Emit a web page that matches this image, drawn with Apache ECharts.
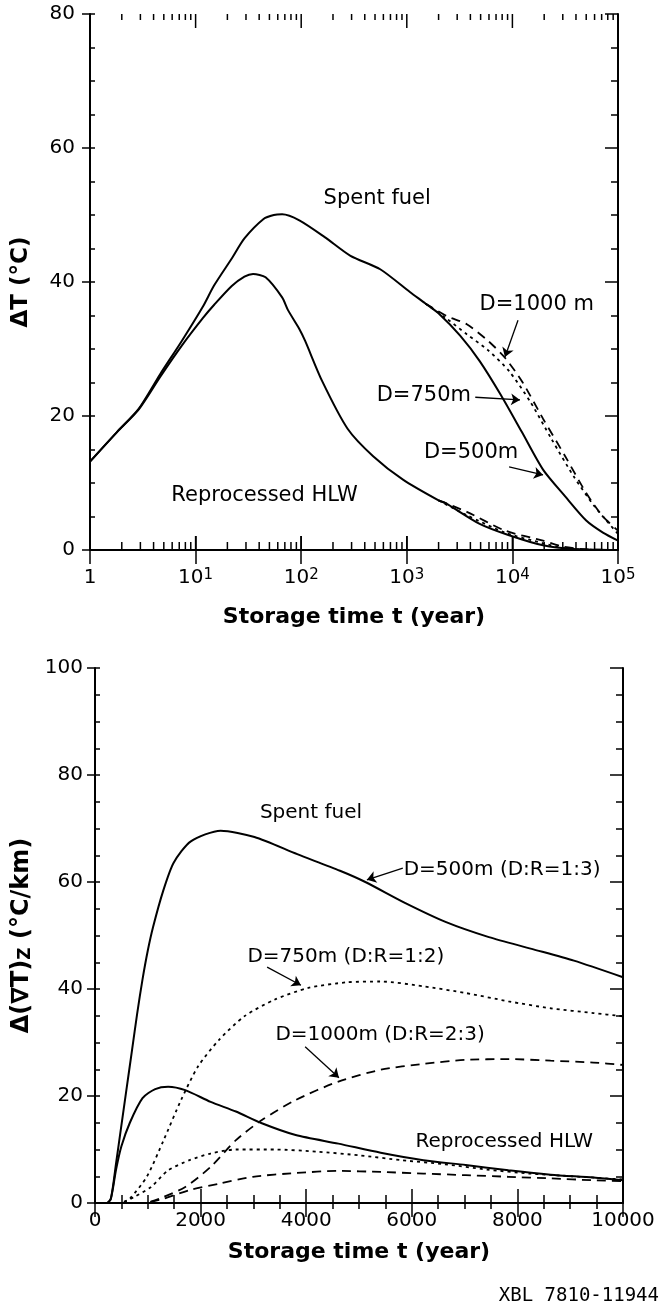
<!DOCTYPE html>
<html>
<head>
<meta charset="utf-8">
<script src="https://cdn.jsdelivr.net/npm/echarts@6/dist/echarts.min.js"></script>
<style>
  html, body { margin: 0; padding: 0; background: #fff; }
  #chart { width: 666px; height: 1312px; }
</style>
</head>
<body>
<div id="chart"></div>
<script>
// ---------- Upper panel: temperature rise ΔT (°C) vs storage time (years, log) ----------
const spentT = [1, 1.8, 2.9, 4.6, 7.4, 11.7, 15, 22, 29, 44, 55, 66, 96, 167, 293, 560, 1070, 1500, 2040, 3200, 4900, 7800, 12300, 19500, 31600, 50000, 72000, 100000];
const spentV = [13.2, 17.6, 21.1, 26.2, 31.2, 36.3, 39.5, 43.5, 46.5, 49.4, 50.0, 50.1, 49.2, 46.7, 43.9, 41.9, 38.5, 36.8, 35.2, 32.0, 28.2, 23.1, 17.6, 12.0, 8.0, 4.4, 2.6, 1.4];

const spent1000T = [1500, 2400, 3700, 5900, 8500, 12300, 19500, 31600, 50000, 72000, 100000];
const spent1000V = [36.8, 34.9, 33.7, 31.2, 28.7, 25.2, 19.6, 14.0, 8.5, 5.0, 2.9];

const spent750T = [1500, 2400, 3700, 5900, 9300, 14800, 23400, 38000, 60000, 100000];
const spent750V = [36.8, 34.5, 32.2, 29.8, 26.7, 22.1, 16.6, 11.0, 6.5, 2.4];

const hlwT = [1, 1.8, 2.9, 4.6, 7.4, 11.7, 15, 22, 29, 35, 46, 66, 75, 96, 109, 158, 275, 480, 920, 2000, 2330, 4900, 9300, 19500, 38000, 100000];
const hlwV = [13.2, 17.6, 21.0, 25.8, 30.5, 34.6, 36.6, 39.4, 40.8, 41.2, 40.7, 37.7, 35.8, 33.0, 31.2, 25.2, 18.1, 14.0, 10.5, 7.4, 7.0, 3.9, 2.2, 0.7, 0.15, 0];

const hlw1000T = [2000, 3700, 8500, 19500, 30000, 50000, 100000];
const hlw1000V = [7.4, 5.7, 2.9, 1.4, 0.5, 0.1, 0];

const hlw750T = [2000, 3700, 8500, 19500, 30000, 50000, 100000];
const hlw750V = [7.4, 5.2, 2.6, 1.0, 0.3, 0.05, 0];

const topDecades = [1, 10, 100, 1000, 10000, 100000];
const topNotes = [
  [525, 52.5, 'Spent fuel'],
  [17000, 36.6, 'D=1000 m'],
  [1450, 23.1, 'D=750m'],
  [4060, 14.5, 'D=500m'],
  [45, 8.2, 'Reprocessed HLW']
];
const topArrows = [
  [[11300, 34.3], [8500, 28.8]],
  [[4450, 22.8], [11800, 22.4]],
  [[9300, 12.4], [19500, 11.2]]
];

// ---------- Lower panel: vertical gradient change Δ(∇T)z (°C/km) vs storage time ----------
const g500T = [0, 220, 300, 400, 500, 600, 700, 800, 900, 1000, 1100, 1290, 1490, 1815, 2380, 3020, 3830, 4640, 5120, 5850, 6650, 7460, 8270, 9070, 10000];
const g500V = [0, 0, 0.8, 7.5, 14.5, 21.5, 28.5, 35.5, 41.8, 47.2, 51.6, 58.3, 63.6, 67.6, 69.6, 68.4, 65.2, 62.1, 60.0, 56.2, 52.5, 49.7, 47.5, 45.3, 42.2];

const g750T = [550, 660, 980, 1300, 1630, 1950, 2350, 2830, 3400, 4040, 4770, 5410, 6220, 7020, 7830, 8630, 9440, 10000];
const g750V = [0.2, 0.8, 4.9, 11.75, 19.25, 25.5, 30.5, 34.9, 38.0, 40.2, 41.25, 41.4, 40.5, 39.25, 37.7, 36.4, 35.5, 34.9];

const g1000T = [1050, 1220, 1710, 2190, 2670, 3160, 3800, 4610, 5410, 6220, 7020, 7830, 8630, 9440, 10000];
const g1000V = [0.2, 0.8, 3.0, 6.75, 11.75, 15.5, 19.25, 22.7, 24.9, 26.0, 26.75, 26.9, 26.6, 26.25, 25.8];

const gHlwT = [0, 220, 300, 400, 500, 660, 900, 1140, 1385, 1710, 2190, 2670, 3160, 3800, 4610, 5410, 6220, 7020, 7830, 8630, 9440, 10000];
const gHlwV = [0, 0, 0.8, 6.3, 10.6, 15.0, 19.6, 21.3, 21.75, 21.1, 18.9, 17.1, 14.9, 12.7, 11.1, 9.4, 8.0, 7.1, 6.1, 5.3, 4.75, 4.25];

const gHlw750T = [550, 740, 1060, 1385, 1790, 2190, 2670, 3400, 4200, 5010, 5810, 6620, 7420, 8230, 9030, 10000];
const gHlw750V = [0.2, 1.1, 3.0, 6.1, 8.0, 9.25, 10.0, 10.0, 9.6, 8.9, 8.0, 7.25, 6.25, 5.5, 5.0, 4.4];

const gHlw1000T = [1050, 1300, 1790, 2350, 2990, 3800, 4610, 5410, 6220, 7020, 7830, 8630, 9440, 10000];
const gHlw1000V = [0.2, 0.8, 2.4, 3.6, 4.9, 5.6, 6.0, 5.8, 5.5, 5.2, 4.9, 4.6, 4.25, 4.1];

const bottomNotes = [
  [4090, 72.9, 'Spent fuel'],
  [7710, 62.2, 'D=500m (D:R=1:3)'],
  [4750, 46.0, 'D=750m (D:R=1:2)'],
  [5400, 31.4, 'D=1000m (D:R=2:3)'],
  [7750, 11.4, 'Reprocessed HLW']
];
const bottomArrows = [
  [[5830, 62.6], [5150, 60.4]],
  [[3260, 44.1], [3900, 40.7]],
  [[3980, 29.2], [4620, 23.4]]
];

// ---------- shared styling ----------
const FONT = 'DejaVu Sans';
const INK = '#000';
const pairs = (xs, ys) => xs.map((x, i) => [x, ys[i]]);

// log-axis minor tick values 2..9 within each decade
const minorLog = [];
for (let d = 0; d < topDecades.length - 1; d++) {
  for (let m = 2; m <= 9; m++) minorLog.push(topDecades[d] * m);
}

function curve(name, xs, ys, gi, dash) {
  return {
    name, type: 'line', xAxisIndex: gi === 0 ? 0 : 2, yAxisIndex: gi === 0 ? 0 : 3,
    data: pairs(xs, ys), symbol: 'none', smooth: 0.25, silent: true,
    lineStyle: { color: INK, width: dash === 'solid' ? 2 : 1.8, type: dash === 'dash' ? [9, 6] : dash === 'dot' ? [3, 4] : 'solid' },
    z: 3
  };
}

// text annotations placed in data space, with leader arrows
function notes(gi, list, arrows, size) {
  return {
    type: 'scatter', xAxisIndex: gi === 0 ? 0 : 2, yAxisIndex: gi === 0 ? 0 : 3,
    data: list, symbolSize: 1, silent: true,
    itemStyle: { color: 'rgba(0,0,0,0)', opacity: 1 },
    label: { show: true, position: 'inside', formatter: p => p.data[2], color: INK, opacity: 1, fontFamily: FONT, fontSize: size },
    markLine: {
      silent: true, symbol: ['none', 'arrow'], symbolSize: 9, animation: false,
      lineStyle: { color: INK, width: 1.3, type: 'solid', opacity: 1 },
      label: { show: false },
      data: arrows.map(a => [{ coord: a[0] }, { coord: a[1] }])
    },
    z: 4
  };
}

const axisLine = { show: true, lineStyle: { color: INK, width: 2 } };
const tickStyle = { color: INK, width: 1.5 };
const labelStyle = { color: INK, fontFamily: FONT, fontSize: 20 };
const titleStyle = { color: INK, fontFamily: FONT, fontSize: 22, fontWeight: 'bold' };

const logLabel = v => {
  const e = Math.round(Math.log10(v));
  return e === 0 ? '1' : '10{s|' + e + '}';
};

const option = {
  animation: false,
  backgroundColor: '#fff',
  grid: [
    { left: 90, top: 14, width: 528, height: 536 },
    { left: 95, top: 668, width: 528, height: 535 }
  ],
  xAxis: [
    { gridIndex: 0, type: 'log', logBase: 10, min: 1, max: 100000, splitNumber: 5, position: 'bottom',
      axisLine, axisTick: { inside: true, length: 14, lineStyle: tickStyle },
      axisLabel: { ...labelStyle, margin: 18, formatter: logLabel,
        rich: { s: { fontFamily: FONT, fontSize: 15, verticalAlign: 'top', color: INK } } },
      splitLine: { show: false },
      name: 'Storage time t (year)', nameLocation: 'middle', nameGap: 56, nameTextStyle: titleStyle },
    { gridIndex: 0, type: 'log', logBase: 10, min: 1, max: 100000, splitNumber: 5, position: 'top',
      axisLine, axisTick: { inside: true, length: 14, lineStyle: tickStyle },
      axisLabel: { show: false }, splitLine: { show: false } },
    { gridIndex: 1, type: 'value', min: 0, max: 10000, interval: 2000, position: 'bottom',
      axisLine, axisTick: { inside: true, length: 14, lineStyle: tickStyle },
      minorTick: { show: true, splitNumber: 4, length: 8, lineStyle: tickStyle },
      axisLabel: { ...labelStyle, margin: 8, formatter: v => String(v) },
      splitLine: { show: false },
      name: 'Storage time t (year)', nameLocation: 'middle', nameGap: 38, nameTextStyle: titleStyle },
    { gridIndex: 1, type: 'value', min: 0, max: 10000, interval: 2000, position: 'top',
      axisLine, axisTick: { inside: true, length: 14, lineStyle: tickStyle },
      minorTick: { show: true, splitNumber: 4, length: 6, lineStyle: tickStyle },
      axisLabel: { show: false }, splitLine: { show: false } }
  ],
  yAxis: [
    { gridIndex: 0, type: 'value', min: 0, max: 80, interval: 20, position: 'left',
      axisLine, axisTick: { inside: false, length: 8, lineStyle: tickStyle },
      axisLabel: { ...labelStyle, margin: 15 }, splitLine: { show: false },
      name: 'ΔT (°C)', nameLocation: 'middle', nameGap: 57,
      nameTextStyle: { ...titleStyle, fontSize: 23 } },
    { gridIndex: 0, type: 'value', min: 0, max: 80, interval: 20, position: 'left',
      axisLine: { show: false }, axisTick: { inside: true, length: 5, lineStyle: tickStyle },
      minorTick: { show: true, splitNumber: 4, length: 5, lineStyle: tickStyle },
      axisLabel: { show: false }, splitLine: { show: false } },
    { gridIndex: 0, type: 'value', min: 0, max: 80, interval: 20, position: 'right',
      axisLine, axisTick: { inside: true, length: 13, lineStyle: tickStyle },
      minorTick: { show: true, splitNumber: 4, length: 7, lineStyle: tickStyle },
      axisLabel: { show: false }, splitLine: { show: false } },
    { gridIndex: 1, type: 'value', min: 0, max: 100, interval: 20, position: 'left',
      axisLine, axisTick: { inside: false, length: 8, lineStyle: tickStyle },
      axisLabel: { ...labelStyle, margin: 12 }, splitLine: { show: false },
      name: '{a|Δ(∇T)}{s|Z}{a| (°C/km)}', nameLocation: 'middle', nameGap: 58,
      nameTextStyle: { ...titleStyle, fontSize: 24,
        rich: { a: { fontFamily: FONT, fontSize: 24, fontWeight: 'bold', color: INK },
                s: { fontFamily: FONT, fontSize: 17, fontWeight: 'bold', color: INK, verticalAlign: 'bottom' } } } },
    { gridIndex: 1, type: 'value', min: 0, max: 100, interval: 20, position: 'left',
      axisLine: { show: false }, axisTick: { inside: true, length: 5, lineStyle: tickStyle },
      minorTick: { show: true, splitNumber: 4, length: 5, lineStyle: tickStyle },
      axisLabel: { show: false }, splitLine: { show: false } },
    { gridIndex: 1, type: 'value', min: 0, max: 100, interval: 20, position: 'right',
      axisLine, axisTick: { inside: true, length: 13, lineStyle: tickStyle },
      minorTick: { show: true, splitNumber: 4, length: 7, lineStyle: tickStyle },
      axisLabel: { show: false }, splitLine: { show: false } }
  ],
  series: [
    // upper panel curves
    curve('Spent fuel, D=500m', spentT, spentV, 0, 'solid'),
    curve('Spent fuel, D=750m', spent750T, spent750V, 0, 'dot'),
    curve('Spent fuel, D=1000m', spent1000T, spent1000V, 0, 'dash'),
    curve('Reprocessed HLW, D=500m', hlwT, hlwV, 0, 'solid'),
    curve('Reprocessed HLW, D=750m', hlw750T, hlw750V, 0, 'dot'),
    curve('Reprocessed HLW, D=1000m', hlw1000T, hlw1000V, 0, 'dash'),
    notes(0, topNotes, topArrows, 21),
    // decade (long) and 2..9 (short) ticks on both edges of the log time axis
    {
      type: 'custom', xAxisIndex: 0, yAxisIndex: 0, silent: true, clip: false,
      data: minorLog.map(v => [v, 8]).concat(topDecades.map(v => [v, 14])),
      renderItem: (params, api) => {
        const v = api.value(0);
        const len = api.value(1);
        const b = api.coord([v, 0]);
        const t = api.coord([v, 80]);
        const st = { stroke: INK, lineWidth: 1.5 };
        return { type: 'group', children: [
          { type: 'line', shape: { x1: b[0], y1: b[1], x2: b[0], y2: b[1] - len }, style: st },
          { type: 'line', shape: { x1: t[0], y1: t[1], x2: t[0], y2: t[1] + (len === 8 ? 6 : 14) }, style: st }
        ] };
      }
    },
    // lower panel curves
    curve('Spent fuel, D=500m (D:R=1:3)', g500T, g500V, 1, 'solid'),
    curve('Spent fuel, D=750m (D:R=1:2)', g750T, g750V, 1, 'dot'),
    curve('Spent fuel, D=1000m (D:R=2:3)', g1000T, g1000V, 1, 'dash'),
    curve('Reprocessed HLW, D=500m', gHlwT, gHlwV, 1, 'solid'),
    curve('Reprocessed HLW, D=750m', gHlw750T, gHlw750V, 1, 'dot'),
    curve('Reprocessed HLW, D=1000m', gHlw1000T, gHlw1000V, 1, 'dash'),
    notes(1, bottomNotes, bottomArrows, 20)
  ],
  graphic: [
    { type: 'text', right: 7, top: 1287, silent: true,
      style: { text: 'XBL 7810-11944', font: '19px "DejaVu Sans Mono"', fill: INK } }
  ]
};

const chart = echarts.init(document.getElementById('chart'), null, { renderer: 'canvas' });
chart.setOption(option);
</script>
</body>
</html>
